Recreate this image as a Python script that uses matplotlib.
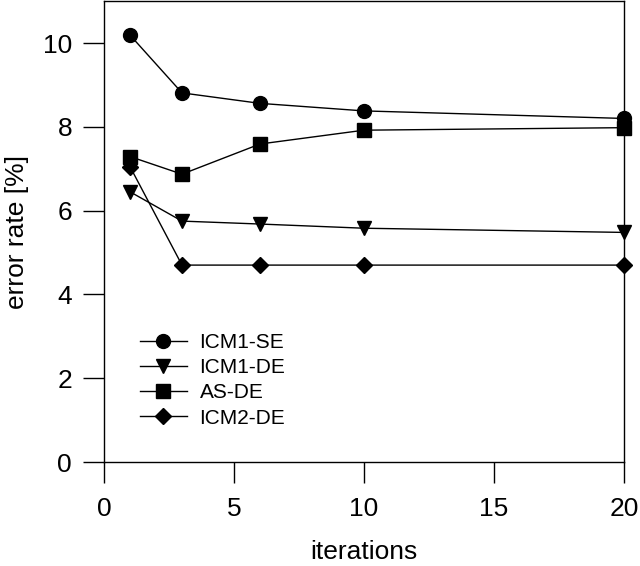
import matplotlib
matplotlib.use("Agg")
import matplotlib.pyplot as plt

iterations = [1, 3, 6, 10, 20]
icm1_se = [10.19, 8.81, 8.56, 8.38, 8.20]
icm1_de = [6.45, 5.75, 5.68, 5.58, 5.48]
as_de = [7.29, 6.87, 7.59, 7.92, 7.98]
icm2_de = [7.05, 4.70, 4.70, 4.70, 4.70]
labels = ["ICM1-SE", "ICM1-DE", "AS-DE", "ICM2-DE"]
xticks = [0, 5, 10, 15, 20]
yticks = [0, 2, 4, 6, 8, 10]

plt.rcParams['font.family'] = ['Liberation Sans', 'DejaVu Sans']

fig = plt.figure(figsize=(6.4, 5.66), dpi=100)
ax = fig.add_axes([0.1625, 0.1837, 0.8125, 0.8143])

series = [icm1_se, icm1_de, as_de, icm2_de]
markers = ['o', 'v', 's', 'D']
sizes = [10, 10, 9.5, 8.5]
for ys, m, ms, lab in zip(series, markers, sizes, labels):
    ax.plot(iterations, ys, color='black', lw=1.0, marker=m, ms=ms,
            label=lab, clip_on=False, zorder=3)

ax.set_xlim(0, 20)
ax.set_ylim(0, 11)
ax.set_xticks(xticks)
ax.set_yticks(yticks)
ax.tick_params(direction='out', length=15, width=1.0, labelsize=19, pad=8, color='black')
ax.tick_params(axis='x', pad=10)
for s in ax.spines.values():
    s.set_linewidth(1.0)

ax.set_xlabel("iterations", fontsize=19, labelpad=14)
ax.set_ylabel("error rate [%]", fontsize=19, labelpad=10)

leg = ax.legend(loc='center left', bbox_to_anchor=(0.069, 0.1775), frameon=False,
                fontsize=15, handlelength=2.26, handletextpad=0.6, labelspacing=0.3,
                borderaxespad=0, borderpad=0)

fig.savefig("out.png", dpi=100)
